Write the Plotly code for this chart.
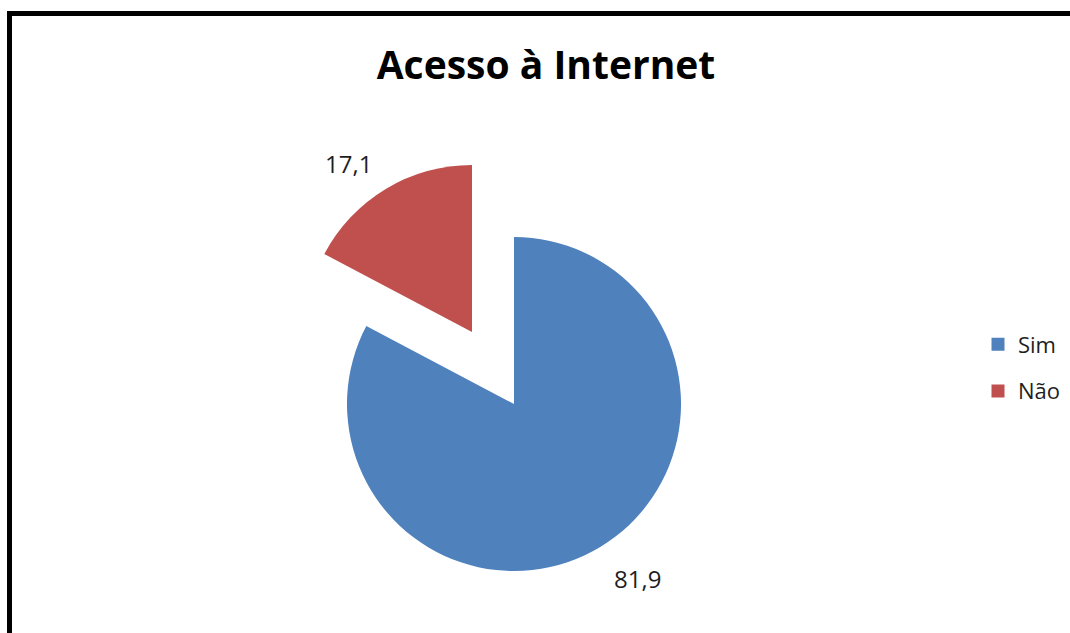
import plotly.graph_objects as go

# Data
categories = ["Sim", "Não"]
values = [81.9, 17.1]
colors = ["#4F81BD", "#C0504D"]

W, H = 1070, 633
FONT = "Open Sans"

# Pie geometry (pixels): main disc centre, exploded slice centre, radius
R = 167
CENTER_MAIN = (514, 404)
CENTER_PULLED = (472, 332)


def domain_for(cx, cy, r):
    return dict(
        x=[(cx - r) / W, (cx + r) / W],
        y=[1 - (cy + r) / H, 1 - (cy - r) / H],
    )


def fmt(v):
    return f"{v:.1f}".replace(".", ",")


fig = go.Figure()

# "Sim" slice on the main disc, "Não" slice exploded out of it
for idx, centre in [(0, CENTER_MAIN), (1, CENTER_PULLED)]:
    slice_colors = ["rgba(0,0,0,0)"] * len(values)
    slice_colors[idx] = colors[idx]
    fig.add_trace(go.Pie(
        labels=categories,
        values=values,
        sort=False,
        direction="clockwise",
        rotation=0,
        marker=dict(colors=slice_colors, line=dict(width=0)),
        textinfo="none",
        hoverinfo="label+value",
        showlegend=False,
        domain=domain_for(*centre, R),
    ))

# Legend entries
for i, (cat, col) in enumerate(zip(categories, colors)):
    fig.add_trace(go.Scatter(
        x=[None], y=[None], mode="markers", name=cat,
        legendgroup=cat,
        marker=dict(symbol="square", size=13, color=col),
    ))

# Value labels
label_pos = [(637, 578), (348, 163)]
for v, (px, py) in zip(values, label_pos):
    fig.add_annotation(
        x=px / W, y=1 - py / H, xref="paper", yref="paper",
        text=fmt(v), showarrow=False, xanchor="center", yanchor="middle",
        font=dict(family=FONT, size=24, color="#1e1e1e"),
    )

# Chart frame
fig.add_shape(
    type="rect", xref="paper", yref="paper",
    x0=9.5 / W, x1=1.05, y0=-0.05, y1=1 - 13.5 / H,
    line=dict(color="black", width=5), fillcolor="rgba(0,0,0,0)",
)

fig.update_layout(
    width=W, height=H,
    margin=dict(l=0, r=0, t=0, b=0),
    paper_bgcolor="white", plot_bgcolor="white",
    title=dict(
        text="<b>Acesso à Internet</b>",
        x=546 / W, xanchor="center",
        y=1 - 65 / H, yanchor="middle", yref="container",
        font=dict(family=FONT, size=39, color="black"),
    ),
    xaxis=dict(visible=False), yaxis=dict(visible=False),
    legend=dict(
        x=978 / W, y=1 - 323.5 / H, xanchor="left", yanchor="top",
        font=dict(family=FONT, size=22, color="#1e1e1e"),
        tracegroupgap=15, itemwidth=30, bgcolor="rgba(0,0,0,0)",
    ),
)

fig.write_html("out.html")
